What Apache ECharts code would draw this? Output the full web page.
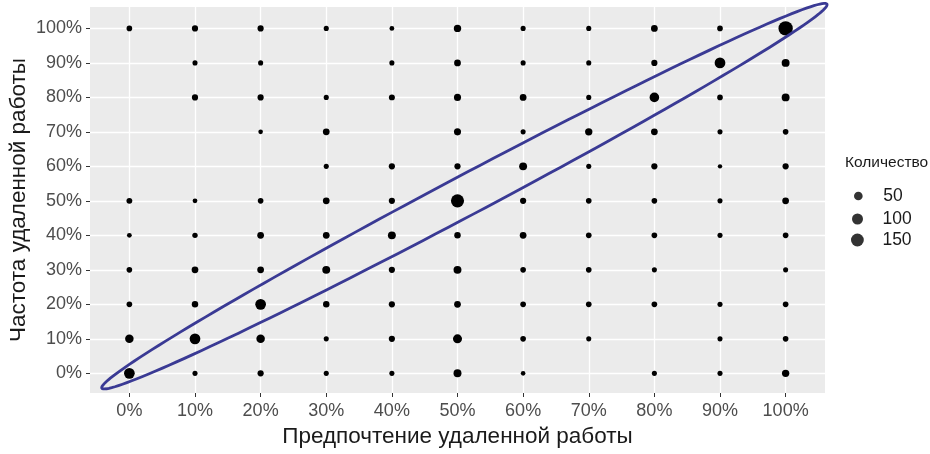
<!DOCTYPE html>
<html>
<head>
<meta charset="utf-8">
<script src="https://cdn.jsdelivr.net/npm/echarts@6/dist/echarts.min.js"></script>
<style>
html, body { margin: 0; padding: 0; background: #fff; }
#chart { width: 930px; height: 454px; }
</style>
</head>
<body>
<div id="chart"></div>
<script>
// уровни осей (проценты)
var xLevels = [0, 10, 20, 30, 40, 50, 60, 70, 80, 90, 100];
var yLevels = [0, 10, 20, 30, 40, 50, 60, 70, 80, 90, 100];

// количество ответов: строка = частота (y), столбец = предпочтение (x); 0 = нет точки
var countY0   = [93,  7, 16,  7,  7,  38,  4,  0,  7,  7,  30];
var countY10  = [47, 93, 47,  7, 16,  57, 11,  7,  0,  7,  11];
var countY20  = [11, 19, 93, 19, 16,  22, 11, 11, 11,  7,  11];
var countY30  = [11, 22, 22, 38, 16,  38, 11, 11,  7,  0,   7];
var countY40  = [ 5,  9, 22, 22, 38,  19, 22, 11, 11,  7,  11];
var countY50  = [13,  5, 11, 22, 16, 160, 16, 11, 11,  7,  22];
var countY60  = [ 0,  0,  0,  7, 16,  16, 38,  7, 16,  3,  16];
var countY70  = [ 0,  0,  4, 22,  0,  26,  7, 30, 22,  7,  11];
var countY80  = [ 0, 16, 16,  7, 14,  26, 22,  7, 68, 11,  38];
var countY90  = [ 0,  7,  7,  0,  7,  22,  7,  7, 16, 93,  38];
var countY100 = [11, 16, 16,  7,  5,  30,  7,  7, 22, 11, 200];
var countRows = [countY0, countY10, countY20, countY30, countY40, countY50,
                 countY60, countY70, countY80, countY90, countY100];

// легенда размера
var sizeBreaks = [50, 100, 150];

// эллипс вокруг диагонали: концы большой оси (в процентах)
var ellipseTips = [[-4.2, -4.3], [106.3, 107.0]];

// размер точки ~ корень из количества
function sizeOf(v) {
	return 3 + 0.8 * Math.sqrt(v);
}

var points = [];
for (var r = 0; r < yLevels.length; r++) {
	for (var c = 0; c < xLevels.length; c++) {
		if (countRows[r][c] > 0) {
			points.push([xLevels[c], yLevels[r], countRows[r][c]]);
		}
	}
}

var font = "'Liberation Sans', Arial, sans-serif";
var myChart = echarts.init(document.getElementById("chart"));

var legends = sizeBreaks.map(function(b, i) {
	return {
		data: [String(b)],
		left: [849, 847, 846][i],
		top: [182, 205, 226][i],
		icon: 'circle',
		itemWidth: 40,
		itemHeight: sizeOf(b),
		selectedMode: false,
		textStyle: { fontFamily: font, fontSize: 17.5, color: '#1a1a1a' }
	};
});

var legendSeries = sizeBreaks.map(function(b) {
	return { name: String(b), type: 'scatter', data: [], itemStyle: { color: '#000' } };
});

myChart.setOption({
	animation: false,
	title: {
		text: 'Количество',
		left: 845,
		top: 155,
		padding: 0,
		textStyle: { fontFamily: font, fontSize: 15.5, fontWeight: 'normal', color: '#1a1a1a' }
	},
	legend: legends,
	grid: {
		left: 90, right: 105, top: 7, bottom: 61,
		outerBoundsMode: 'none',
		containLabel: false,
		show: true, backgroundColor: '#EBEBEB', borderWidth: 0
	},
	xAxis: {
		type: 'value',
		min: -6, max: 106,
		name: 'Предпочтение удаленной работы',
		nameLocation: 'middle',
		nameGap: 32,
		nameMoveOverlap: false,
		nameTextStyle: { fontFamily: font, fontSize: 22.5, color: '#1a1a1a' },
		axisLine: { show: false, onZero: false },
		axisTick: { show: true, length: 4, lineStyle: { color: '#333' }, customValues: xLevels },
		axisLabel: {
			customValues: xLevels, margin: 9,
			formatter: function(v) { return v + '%'; },
			fontFamily: font, fontSize: 18, color: '#4d4d4d'
		},
		splitLine: { show: true, lineStyle: { color: '#fff', width: 1.3 } }
	},
	yAxis: {
		type: 'value',
		min: -5.7, max: 106.2,
		name: 'Частота удаленной работы',
		nameLocation: 'middle',
		nameGap: 60,
		nameMoveOverlap: false,
		nameTextStyle: { fontFamily: font, fontSize: 22.5, color: '#1a1a1a' },
		axisLine: { show: false, onZero: false },
		axisTick: { show: true, length: 4, lineStyle: { color: '#333' }, customValues: yLevels },
		axisLabel: {
			customValues: yLevels, margin: 8,
			formatter: function(v) { return v + '%'; },
			fontFamily: font, fontSize: 18, color: '#4d4d4d'
		},
		splitLine: { show: true, lineStyle: { color: '#fff', width: 1.3 } }
	},
	series: [{
		name: 'Количество',
		type: 'scatter',
		data: points,
		symbol: 'circle',
		symbolSize: function(val) { return sizeOf(val[2]); },
		itemStyle: { color: '#000', opacity: 1 },
		z: 3
	}, {
		type: 'custom',
		data: [ellipseTips[0]],
		clip: false,
		silent: true,
		z: 5,
		renderItem: function(params, api) {
			var p1 = api.coord(ellipseTips[0]);
			var p2 = api.coord(ellipseTips[1]);
			var cx = (p1[0] + p2[0]) / 2, cy = (p1[1] + p2[1]) / 2;
			var dx = p2[0] - p1[0], dy = p2[1] - p1[1];
			var a = Math.sqrt(dx * dx + dy * dy) / 2;
			var b = 20;
			var ang = Math.atan2(dy, dx);
			var pts = [];
			for (var k = 0; k < 180; k++) {
				var t = k / 180 * Math.PI * 2;
				var u = a * Math.cos(t), w = b * Math.sin(t);
				pts.push([cx + u * Math.cos(ang) - w * Math.sin(ang),
				          cy + u * Math.sin(ang) + w * Math.cos(ang)]);
			}
			return {
				type: 'polygon',
				shape: { points: pts },
				style: { fill: 'none', stroke: '#3a3a94', lineWidth: 2.8 }
			};
		}
	}].concat(legendSeries)
});
</script>
</body>
</html>
